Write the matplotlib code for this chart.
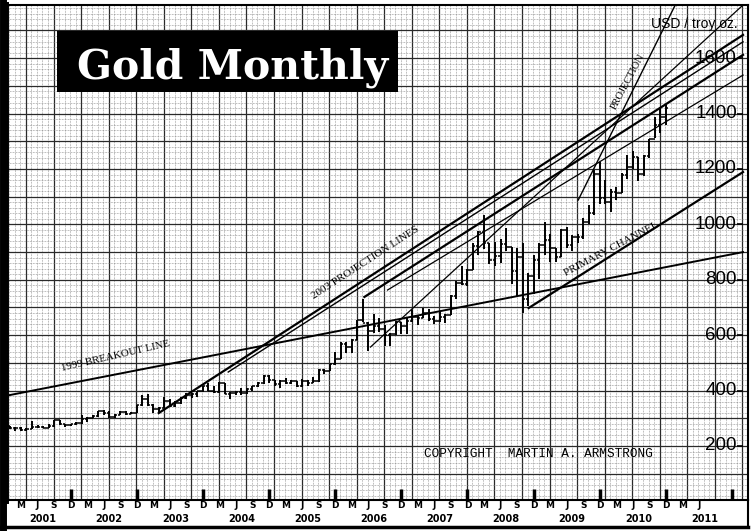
import numpy as np
import matplotlib
matplotlib.use("Agg")
from matplotlib import pyplot as plt
from matplotlib.patches import Rectangle
from matplotlib.lines import Line2D

# monthly gold bars, Jan 2001 .. Dec 2010 (USD / troy oz)
opens = [272, 265, 266, 258, 263, 268, 270, 266, 273, 293, 279, 275,
         279, 282, 297, 302, 308, 326, 318, 305, 312, 323, 316, 319,
         347, 368, 347, 334, 337, 364, 346, 354, 375, 385, 386, 398,
         416, 400, 396, 427, 387, 393, 395, 391, 407, 416, 428, 453,
         438, 422, 435, 428, 435, 417, 436, 429, 433, 473, 470, 495,
         513, 568, 556, 582, 654, 643, 614, 632, 623, 599, 603, 646,
         632, 650, 665, 662, 679, 659, 650, 666, 672, 743, 789, 783,
         834, 923, 971, 933, 871, 885, 930, 918, 833, 884, 730, 814,
         870, 927, 942, 916, 883, 980, 927, 955, 955, 1008, 1040, 1182,
         1096, 1081, 1118, 1115, 1180, 1207, 1244, 1181, 1248, 1307, 1357, 1386]
highs = [272, 268, 269, 265, 292, 277, 273, 279, 294, 293, 281, 281,
         287, 313, 304, 311, 328, 329, 327, 315, 327, 325, 323, 349,
         383, 388, 353, 341, 377, 371, 361, 377, 393, 392, 400, 417,
         428, 418, 431, 428, 396, 399, 410, 411, 417, 432, 456, 458,
         438, 438, 447, 439, 436, 443, 437, 448, 477, 477, 497, 541,
         575, 577, 586, 654, 732, 647, 677, 663, 635, 607, 650, 648,
         664, 692, 673, 697, 693, 668, 685, 676, 745, 794, 848, 838,
         933, 976, 1033, 933, 937, 946, 988, 918, 913, 931, 825, 890,
         934, 1007, 965, 913, 985, 992, 960, 965, 1024, 1070, 1195, 1227,
         1162, 1128, 1135, 1185, 1249, 1265, 1245, 1251, 1308, 1388, 1424, 1431]
lows = [263, 255, 255, 254, 263, 265, 264, 265, 270, 275, 270, 272,
        277, 281, 287, 300, 306, 313, 301, 302, 311, 312, 315, 318,
        343, 344, 320, 321, 337, 342, 341, 351, 371, 372, 378, 395,
        398, 393, 390, 386, 371, 385, 383, 388, 399, 412, 425, 428,
        417, 411, 425, 423, 414, 413, 417, 429, 432, 459, 469, 491,
        513, 536, 537, 581, 648, 543, 608, 612, 561, 560, 602, 606,
        604, 648, 636, 661, 653, 640, 646, 643, 672, 731, 781, 779,
        835, 888, 912, 857, 848, 862, 904, 786, 740, 681, 705, 749,
        802, 891, 866, 865, 883, 913, 905, 932, 948, 1003, 1033, 1075,
        1072, 1044, 1087, 1114, 1164, 1200, 1155, 1176, 1240, 1312, 1330, 1360]
closes = [265, 266, 258, 263, 268, 270, 266, 273, 293, 279, 275, 279,
          282, 297, 302, 308, 326, 318, 305, 312, 323, 316, 319, 347,
          368, 347, 334, 337, 364, 346, 354, 375, 385, 386, 398, 416,
          400, 396, 427, 387, 393, 395, 391, 407, 416, 428, 453, 438,
          422, 435, 428, 435, 417, 436, 429, 433, 473, 470, 495, 513,
          568, 556, 582, 654, 643, 614, 632, 623, 599, 603, 646, 632,
          650, 665, 662, 679, 659, 650, 666, 672, 743, 789, 783, 834,
          923, 971, 933, 871, 885, 930, 918, 833, 884, 730, 814, 870,
          927, 942, 916, 883, 980, 927, 955, 955, 1008, 1040, 1182, 1096,
          1081, 1118, 1115, 1180, 1207, 1244, 1181, 1248, 1307, 1357, 1386, 1421]

# trend lines: (month index, price) end points
breakout_t, breakout_p = [-1.8, 133], [377, 900]
proj1a_t, proj1a_p = [27.0, 133], [319, 1684]
proj1b_t, proj1b_p = [39.6, 133], [467, 1659]
proj2a_t, proj2a_p = [64.3, 133], [738, 1612]
proj2b_t, proj2b_p = [68.5, 133], [763, 1539]
mid_t, mid_p = [65.4, 133], [557, 1792]
steep_t, steep_p = [103.1, 120.7], [1088, 1792]
channel_t, channel_p = [94.1, 133], [698, 1189]

years = list(range(2001, 2012))
month_letters = ["M", "J", "S", "D"]
price_labels = [200, 400, 600, 800, 1000, 1200, 1400, 1600]

t = np.arange(len(closes))

fig = plt.figure(figsize=(7.53, 5.31), dpi=100)
ax = fig.add_axes([5/753, 1 - 500/531, 743/753, 495/531])
ax.set_xlim(-0.9, 133.0)
ax.set_ylim(5, 1792)

# graph paper
ax.set_xticks(np.arange(2.9, 134, 5))
ax.set_xticks(np.arange(-0.1, 134, 1), minor=True)
ax.set_yticks(np.arange(100, 1800, 100))
ax.set_yticks(np.arange(20, 1800, 20), minor=True)
ax.grid(which="major", color="#2a2a2a", lw=0.9)
ax.grid(which="minor", color="#808080", lw=0.5, ls=(0, (1, 1.2)))
ax.tick_params(which="both", length=0, labelbottom=False, labelleft=False)
ax.set_axisbelow(True)
for s in ["top", "right", "bottom"]:
    ax.spines[s].set_linewidth(1.5)
ax.spines["left"].set_linewidth(5)

# bars
ax.vlines(t, lows, highs, color="black", lw=1.4)
ax.hlines(opens, t - 0.45, t, color="black", lw=1.1)
ax.hlines(closes, t, t + 0.45, color="black", lw=1.1)

# lines
ax.plot(breakout_t, breakout_p, color="black", lw=1.4)
ax.plot(proj1a_t, proj1a_p, color="black", lw=1.6)
ax.plot(proj1b_t, proj1b_p, color="black", lw=1.0)
ax.plot(proj2a_t, proj2a_p, color="black", lw=1.6)
ax.plot(proj2b_t, proj2b_p, color="black", lw=0.9)
ax.plot(mid_t, mid_p, color="black", lw=0.9)
ax.plot(steep_t, steep_p, color="black", lw=1.0)
ax.plot(channel_t, channel_p, color="black", lw=1.6)

serif = "Liberation Serif"
ax.text(19.1, 524, "1999 BREAKOUT LINE", rotation=13, rotation_mode="anchor",
        ha="center", va="center", fontsize=7.8, family=serif)
ax.text(64.5, 862, "2003 PROJECTION LINES", rotation=33, rotation_mode="anchor",
        ha="center", va="center", fontsize=8, family=serif)
ax.text(112.1, 1514, "PROJECTION", rotation=62, rotation_mode="anchor",
        ha="center", va="center", fontsize=7.5, family=serif)
ax.text(109.2, 911, "PRIMARY CHANNEL", rotation=28, rotation_mode="anchor",
        ha="center", va="center", fontsize=8, family=serif)
ax.text(95.9, 171, "COPYRIGHT  MARTIN A. ARMSTRONG", ha="center", va="center",
        fontsize=9.2, family="Liberation Mono")
ax.text(132.1, 1723, "USD / troy oz.", ha="right", va="center",
        fontsize=10, family="Liberation Sans")

for v in price_labels:
    ax.text(131.9, v, str(v), ha="right", va="center", fontsize=13.5,
            family="Liberation Sans")
    ax.hlines(v, 131.9, 133.0, color="black", lw=1.2)

# month / year strip
xt = ax.get_xaxis_transform()
for y in years:
    for j, m in enumerate(month_letters):
        mi = (y - 2001) * 12 + 2 + 3 * j
        if mi > 126:
            continue
        ax.text(mi, -0.011, m, transform=xt, ha="center", va="center",
                fontsize=6.5, weight="bold", clip_on=False)
    ax.text((y - 2001) * 12 + 6, -0.039, str(y), transform=xt, ha="center",
            va="center", fontsize=7, weight="bold", clip_on=False)
    ax.vlines((y - 2001) * 12 + 11, 5, 45, color="black", lw=2.5)

# title box
fig.patches.append(Rectangle((57/753, 1 - 92/531), 341/753, 61/531,
                             transform=fig.transFigure, facecolor="black",
                             edgecolor="none", zorder=5))
fig.text(233/753, 1 - 78/531, "Gold Monthly", ha="center", va="baseline",
         color="white", fontsize=29.5, family="DejaVu Serif", weight="bold",
         zorder=6)

# outer frame of the strip
fig.lines.append(Line2D([0.004, 0.004], [0.005, 1], transform=fig.transFigure,
                        color="black", lw=5))
fig.lines.append(Line2D([0.0, 748/753], [1 - 527/531, 1 - 527/531],
                        transform=fig.transFigure, color="black", lw=2.5))
fig.lines.append(Line2D([748/753, 748/753], [1 - 527/531, 1 - 500/531],
                        transform=fig.transFigure, color="black", lw=1.5))

fig.savefig("out.png", dpi=100)
